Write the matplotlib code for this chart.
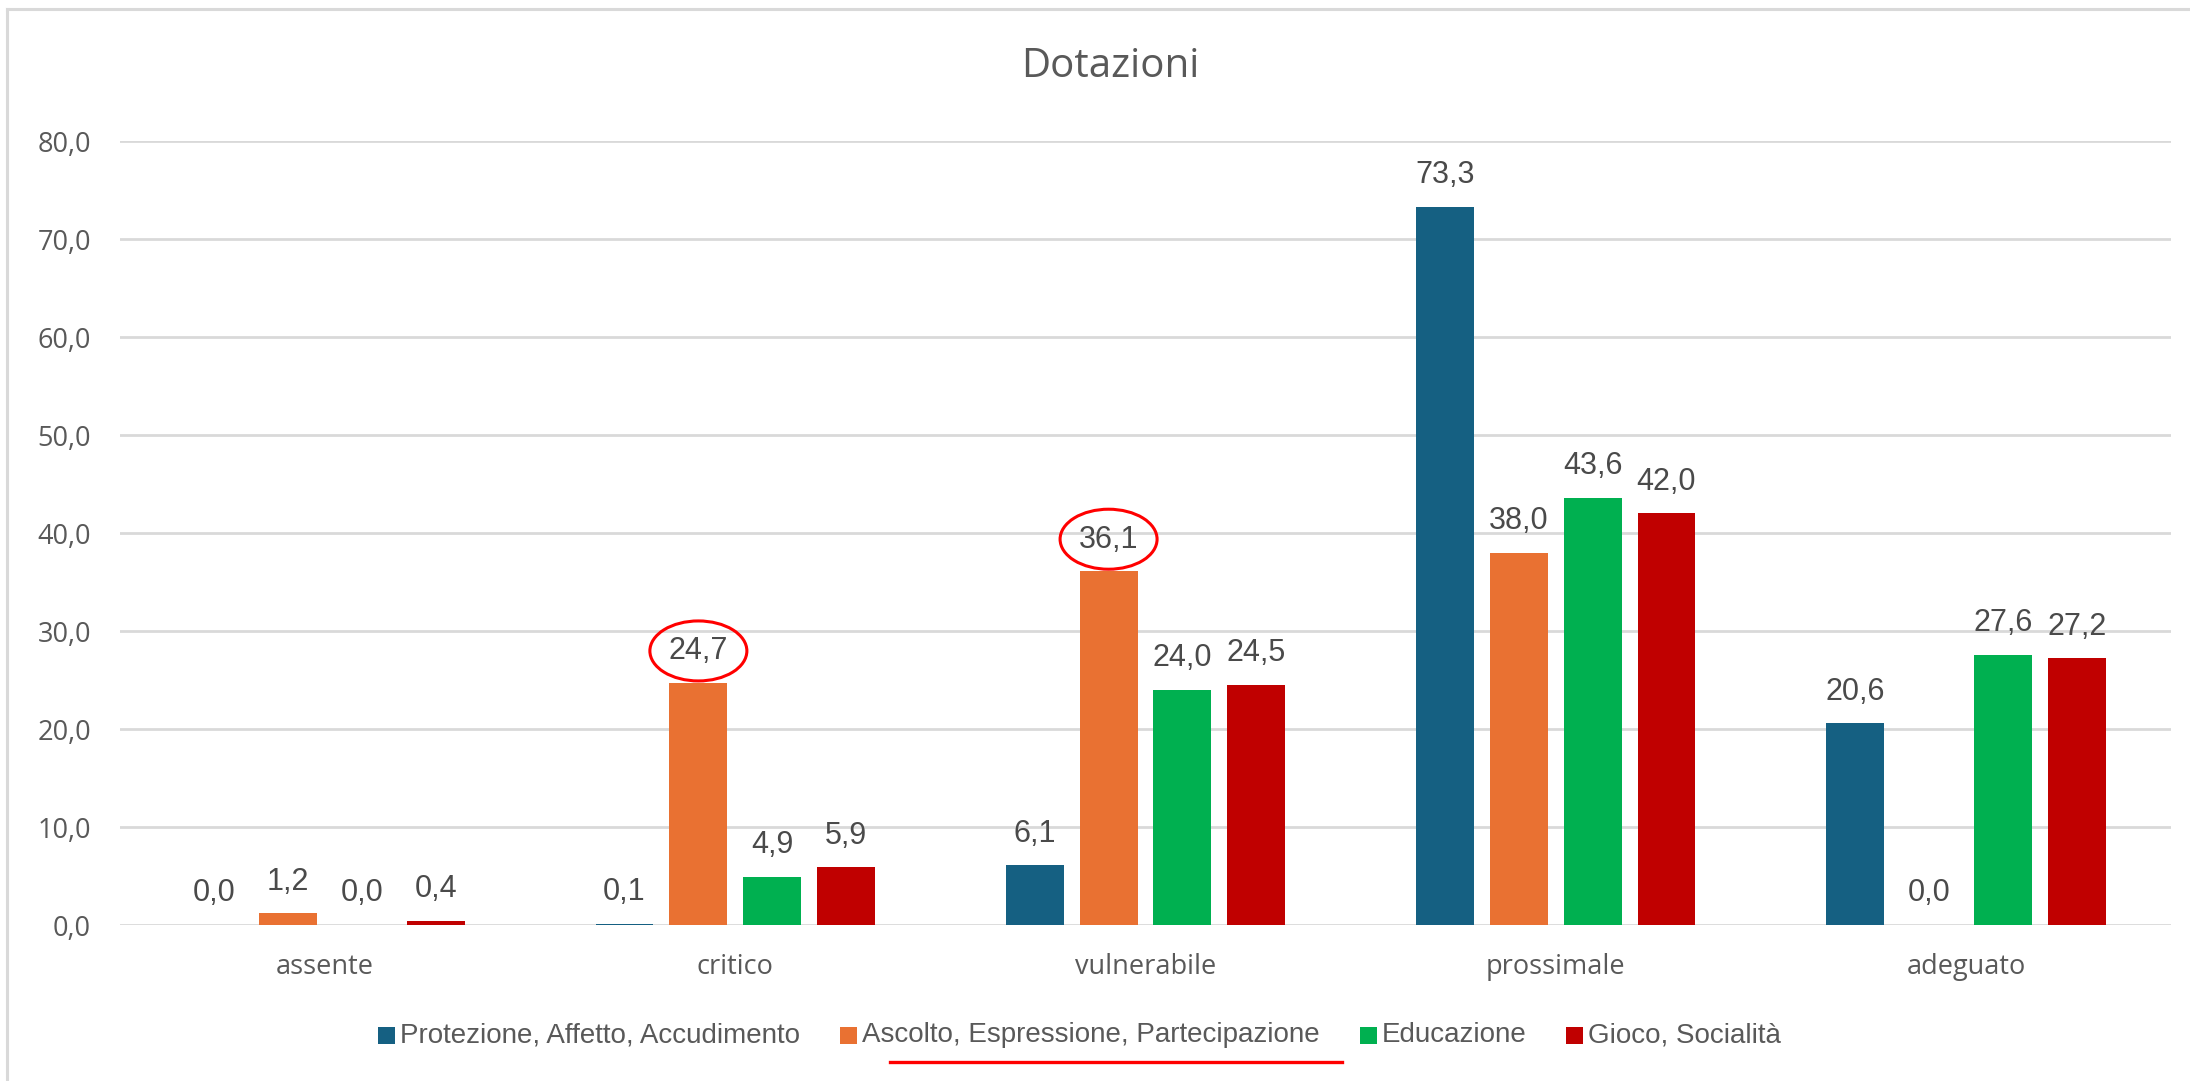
import matplotlib
matplotlib.use("Agg")
import matplotlib.pyplot as plt
from matplotlib.patches import Ellipse, Rectangle
from matplotlib.transforms import ScaledTranslation
from matplotlib.lines import Line2D
import numpy as np

# ---------------- data ----------------
categories = ["assente", "critico", "vulnerabile", "prossimale", "adeguato"]
series_names = [
    "Protezione, Affetto, Accudimento",
    "Ascolto, Espressione, Partecipazione",
    "Educazione",
    "Gioco, Socialità",
]
protezione = [0.0, 0.1, 6.1, 73.3, 20.6]
ascolto = [1.2, 24.7, 36.1, 38.0, 0.0]
educazione = [0.0, 4.9, 24.0, 43.6, 27.6]
gioco = [0.4, 5.9, 24.5, 42.0, 27.2]
y_ticks = [0, 10, 20, 30, 40, 50, 60, 70, 80]
title = "Dotazioni"
# highlighted labels: (series index, category index)
highlighted = [(1, 1), (1, 2)]

# ---------------- style ----------------
colors = ["#156082", "#E97132", "#00B050", "#C00000"]
grid_color = "#D9D9D9"
text_grey = "#595959"
label_grey = "#4A4A4A"

W, H, DPI = 2190, 1081, 100
fig = plt.figure(figsize=(W / DPI, H / DPI), dpi=DPI)
fig.patch.set_facecolor("white")

def px_x(x):
    return x / W

def px_y(y):
    return 1 - y / H

ax = fig.add_axes([px_x(120), px_y(925), (2171 - 120) / W, (925 - 141) / H])

series = [protezione, ascolto, educazione, gioco]
x = np.arange(len(categories))
step = 0.18
width = 0.141
for i, (vals, col, name) in enumerate(zip(series, colors, series_names)):
    off = (i - 1.5) * step
    ax.bar(x + off, vals, width, color=col, label=name, zorder=3)
    for xi, v in zip(x + off, vals):
        ax.annotate(f"{v:.1f}".replace(".", ","), (xi, v), xytext=(0, 17),
                    textcoords="offset points", ha="center", va="baseline",
                    fontsize=22, family="Liberation Sans", color=label_grey,
                    annotation_clip=False)

# highlight ellipses
for si, ci in highlighted:
    xc = x[ci] + (si - 1.5) * step
    yc = series[si][ci]
    tr = fig.dpi_scale_trans + ScaledTranslation(xc, yc, ax.transData)
    e = Ellipse((0, 0.32), 0.97, 0.60, transform=tr, fill=False,
                edgecolor="#FF0000", linewidth=2.2, zorder=5, clip_on=False)
    fig.add_artist(e)

ax.set_xlim(-0.5, 4.5)
ax.set_ylim(0, 80)
ax.set_yticks(y_ticks)
ax.set_yticklabels([f"{t:.1f}".replace(".", ",") for t in y_ticks],
                   family="Open Sans", fontsize=19.5, color=text_grey)
ax.set_xticks(x)
ax.set_xticklabels(categories, family="Open Sans", fontsize=19.5, color=text_grey)
ax.tick_params(axis="y", length=0, pad=21)
ax.tick_params(axis="x", length=0, pad=20)
for s in ax.spines.values():
    s.set_visible(False)
ax.yaxis.grid(True, color=grid_color, linewidth=2.0, zorder=0)
ax.set_axisbelow(True)

# title
fig.text(px_x(1110), px_y(67), title, ha="center", va="center",
         family="Open Sans", fontsize=29, color=text_grey)

# legend: evenly spaced entries, second entry's text anchored over the underline
anchor_text_x = 862
legend_y = 1035
msize = 17
mpad = 5
gap = 40
renderer = fig.canvas.get_renderer()
texts = []
widths = []
for name in series_names:
    t = fig.text(0, px_y(legend_y), name, ha="left", va="center",
                 family="Liberation Sans", fontsize=20, color=text_grey)
    texts.append(t)
    widths.append(t.get_window_extent(renderer).width)
cur = anchor_text_x - mpad - msize - gap - widths[0] - mpad - msize
for t, wdt, col in zip(texts, widths, colors):
    fig.add_artist(Rectangle((px_x(cur), px_y(legend_y + msize / 2)),
                             msize / W, msize / H, transform=fig.transFigure,
                             facecolor=col, edgecolor="none"))
    t.set_x(px_x(cur + msize + mpad))
    cur += msize + mpad + wdt + gap

# underline under second legend entry
fig.add_artist(Line2D([px_x(890), px_x(1342)], [px_y(1062), px_y(1062)],
                      color="#FF0000", linewidth=2.4, transform=fig.transFigure))

# chart-area border (left and top)
fig.add_artist(Line2D([px_x(7), px_x(7)], [px_y(9), 0], color=grid_color,
                      linewidth=2.2, transform=fig.transFigure))
fig.add_artist(Line2D([px_x(7), 1], [px_y(9), px_y(9)], color=grid_color,
                      linewidth=2.2, transform=fig.transFigure))

fig.savefig("out.png", dpi=DPI)
